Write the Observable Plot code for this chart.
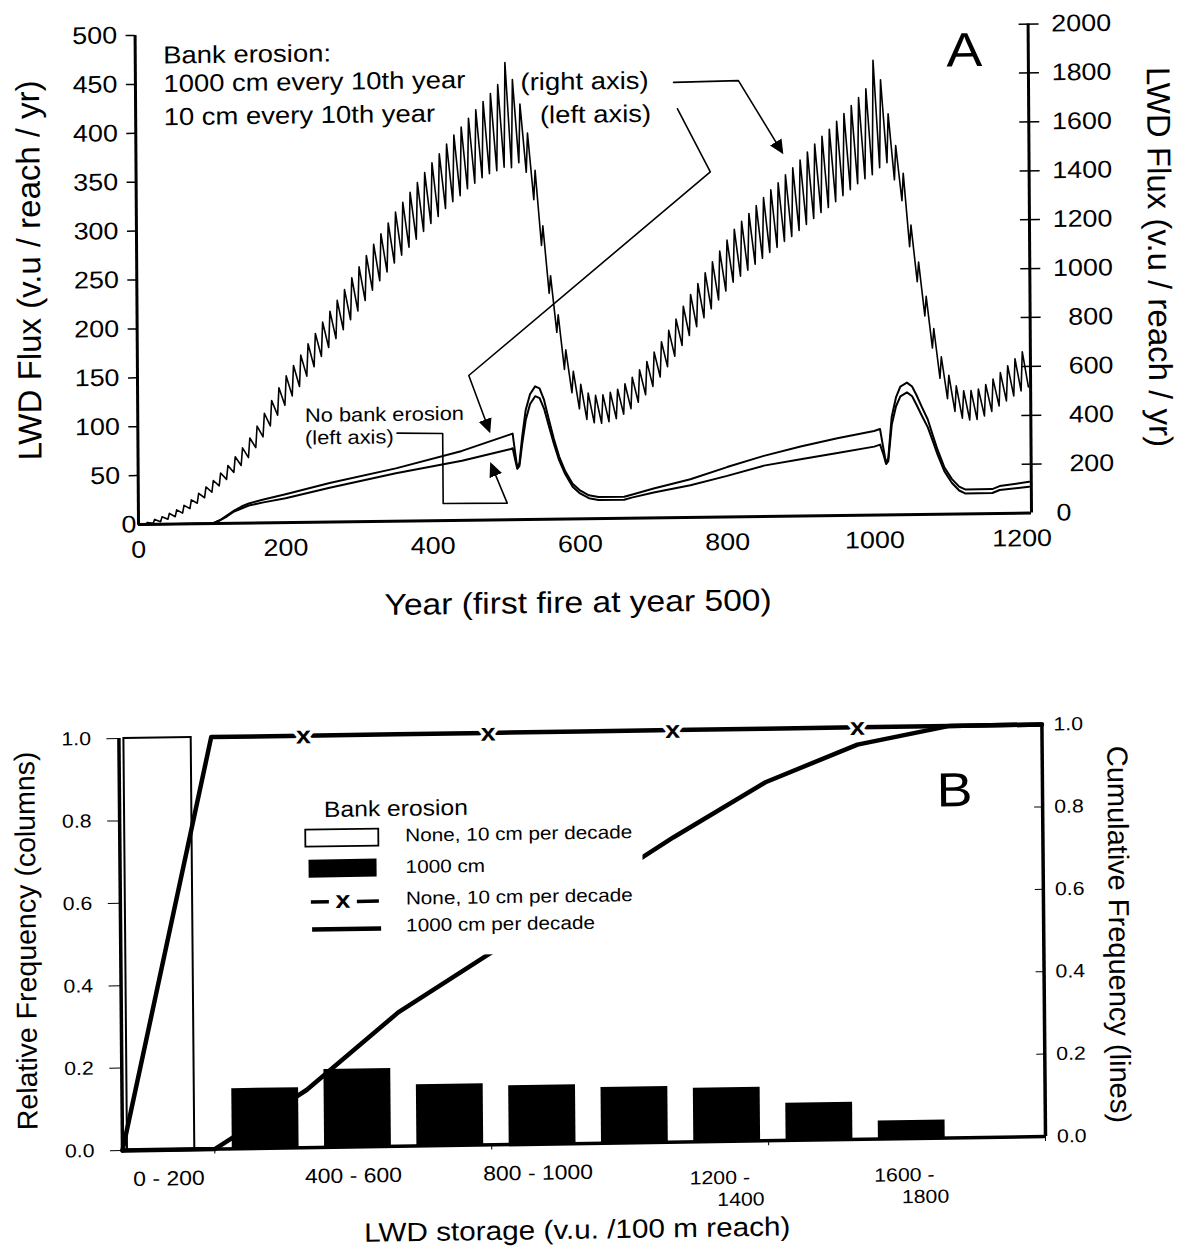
<!DOCTYPE html>
<html><head><meta charset="utf-8">
<script src="https://cdn.jsdelivr.net/npm/d3@7"></script>
<script src="https://cdn.jsdelivr.net/npm/@observablehq/plot@0.6"></script>
<style>
html,body{margin:0;padding:0;background:#fff;overflow:hidden;}
#page{position:relative;width:1184px;height:1247px;overflow:hidden;background:#fff;}
#pa{position:absolute;left:0;top:0;width:1184px;height:640px;transform-origin:138px 524px;transform:skew(0.4deg,-0.733deg);}
#pb{position:absolute;left:0;top:640px;width:1184px;height:607px;transform-origin:122px 510px;transform:skew(0.5deg,-0.869deg);}
svg{overflow:visible;}
</style></head>
<body><div id="page"><div id="pa"></div><div id="pb"></div></div>
<script>
// ================= PANEL A DATA =================
// 1000 cm every 10th year (right axis, v.u./reach/yr): value just before each decade's erosion (trough) and just after (peak)
const decadeYears = d3.range(0, 1211, 10);
const bigPeaks = [
  0, 8, 20, 30, 44, 58, 76, 98, 124, 150,
  176, 206, 236, 272, 308, 348, 396, 448, 500, 552,
  600, 642, 684, 730, 772, 818, 862, 906, 950, 998,
  1042, 1088, 1134, 1176, 1220, 1264, 1304, 1344, 1384, 1424,
  1464, 1500, 1540, 1576, 1608, 1644, 1678, 1712, 1744, 1780,
  1870, 1800, 1700, 1580, 1428, 1200, 996, 836, 692, 604,
  550, 514, 504, 506, 516, 528, 550, 576, 606, 640,
  678, 720, 766, 812, 864, 912, 956, 1000, 1044, 1088,
  1132, 1176, 1208, 1240, 1272, 1304, 1336, 1364, 1396, 1424,
  1456, 1488, 1520, 1552, 1580, 1612, 1644, 1676, 1708, 1744,
  1860, 1780, 1640, 1510, 1396, 1184, 1032, 892, 760, 644,
  568, 524, 504, 504, 510, 528, 550, 576, 604, 632,
  660, 688
];
const bigTroughs = [
  0, 0, 4, 10, 20, 30, 44, 62, 84, 106,
  128, 154, 180, 208, 236, 268, 308, 352, 396, 440,
  480, 518, 556, 598, 636, 678, 714, 750, 786, 826,
  862, 904, 946, 984, 1020, 1056, 1088, 1120, 1152, 1184,
  1216, 1244, 1276, 1304, 1328, 1356, 1378, 1400, 1416, 1428,
  1442, 1440, 1460, 1420, 1308, 1120, 924, 764, 612, 516,
  450, 406, 392, 390, 396, 408, 426, 448, 474, 504,
  538, 576, 618, 660, 704, 744, 780, 816, 852, 888,
  924, 960, 984, 1008, 1032, 1056, 1080, 1100, 1124, 1144,
  1168, 1192, 1216, 1240, 1260, 1284, 1308, 1332, 1356, 1376,
  1392, 1420, 1440, 1370, 1284, 1096, 952, 812, 680, 556,
  472, 420, 392, 384, 386, 400, 418, 440, 460, 480,
  500, 516
];
// 10 cm every 10th year and no bank erosion (left axis)
const lowYears = [0, 100, 110, 120, 130, 140, 150, 170, 200, 260,
  350, 440, 505, 509, 512, 515, 518, 522, 527, 533,
  540, 546, 552, 558, 565, 572, 580, 590, 600, 612,
  625, 660, 670, 700, 750, 800, 850, 900, 950, 1000,
  1008, 1012, 1016, 1019, 1024, 1030, 1036, 1045, 1052, 1058,
  1065, 1073, 1080, 1086, 1095, 1105, 1115, 1123, 1160, 1170,
  1210];
const flux10cm = [0, 0, 3, 8, 13, 17, 20, 24, 29, 40,
  54, 71, 87, 88, 70, 53, 58, 85, 112, 128,
  136, 134, 122, 103, 82, 64, 49, 36, 29, 24,
  22, 22, 24, 30, 39, 51, 62, 71, 79, 86,
  88, 70, 53, 58, 100, 120, 131, 135, 131, 122,
  110, 97, 80, 66, 48, 36, 28, 25, 25, 28,
  32];
const fluxNone = [0, 0, 3, 7, 12, 15, 18, 21, 25, 35,
  49, 61, 72, 73, 62, 52, 55, 78, 102, 118,
  126, 124, 113, 96, 77, 60, 46, 33, 26, 21,
  19, 19, 21, 26, 33, 42, 52, 58, 64, 70,
  72, 63, 52, 55, 92, 111, 121, 125, 121, 112,
  101, 89, 74, 61, 44, 32, 24, 21, 21, 24,
  27];
const xTicksA = [0, 200, 400, 600, 800, 1000, 1200];
const leftTicksA = [50, 100, 150, 200, 250, 300, 350, 400, 450, 500];
const rightTicksA = [200, 400, 600, 800, 1000, 1200, 1400, 1600, 1800, 2000];
const annoBig = [
  {year: 38, v: 479, label: "Bank erosion:"},
  {year: 38, v: 450, label: "1000 cm every 10th year"},
  {year: 38, v: 416, label: "10 cm every 10th year"},
  {year: 523, v: 447, label: "(right axis)"},
  {year: 549, v: 413, label: "(left axis)"}
];
const annoSmall = [
  {year: 227, v: 109, label: "No bank erosion"},
  {year: 227, v: 86, label: "(left axis)"}
];
const arrowPts = [
  {id: "r", year: 731, v: 445}, {id: "r", year: 819, v: 446}, {id: "r", year: 877, v: 373},
  {id: "l", year: 736, v: 418}, {id: "l", year: 780, v: 353}, {id: "l", year: 450, v: 148}, {id: "l", year: 477, v: 92},
  {id: "n", year: 352, v: 90}, {id: "n", year: 414, v: 89}, {id: "n", year: 414, v: 17.5}, {id: "n", year: 501, v: 17}, {id: "n", year: 480, v: 56}
];

// ================= PANEL B DATA =================
const binLo = [0, 200, 400, 600, 800, 1000, 1200, 1400, 1600, 1800];
const binLine1 = ["0 - 200", "", "400 - 600", "", "800 - 1000", "", "1200 -", "", "1600 -", ""];
const binLine2 = ["", "", "", "", "", "", "1400", "", "1800", ""];
const relNone = [1.0, 0, 0, 0, 0, 0, 0, 0, 0, 0];
const rel1000 = [0, 0.146, 0.189, 0.149, 0.143, 0.135, 0.130, 0.090, 0.044, 0];
const cumX = [0, 200, 400, 600, 800, 1000, 1200, 1400, 1600, 1800, 2000];
const cumNone = [0, 1, 1, 1, 1, 1, 1, 1, 1, 1, 1];
const cum1000 = [0, 0, 0.14, 0.325, 0.465, 0.60, 0.74, 0.87, 0.958, 1.0, 1.0];
const cumNoneMarkers = [400, 800, 1200, 1600];
const bTicks = [0, 0.2, 0.4, 0.6, 0.8, 1.0];
const bTickMarks = [200, 800, 1400, 2000];

// ================= BUILD =================
const W = 1184;
const font = "'Liberation Sans', Arial, Helvetica, sans-serif";
const xMaxA = 1213;
const C = {textAnchor: "middle", lineAnchor: "middle"};

const bigPts = [];
decadeYears.forEach((yr, i) => {
  bigPts.push({year: yr, v: bigTroughs[i]});
  if (i < decadeYears.length - 1) bigPts.push({year: yr + 2, v: bigPeaks[i]});
});
const uPts = lowYears.map((y, i) => ({year: y, v: flux10cm[i]}));
const lPts = lowYears.map((y, i) => ({year: y, v: fluxNone[i]}));

const plotA = Plot.plot({
  width: W, height: 640,
  marginLeft: 138, marginRight: W - 1031, marginTop: 35, marginBottom: 116,
  style: {fontFamily: font, fontSize: "24px", color: "black", background: "white", overflow: "visible"},
  x: {domain: [0, xMaxA]},
  y: {domain: [0, 500]},
  marks: [
    Plot.line(bigPts, {x: "year", y: d => d.v / 4, stroke: "black", strokeWidth: 1.6}),
    Plot.line(uPts, {x: "year", y: "v", stroke: "black", strokeWidth: 2}),
    Plot.line(lPts, {x: "year", y: "v", stroke: "black", strokeWidth: 2}),
    Plot.line(arrowPts, {x: "year", y: "v", z: "id", stroke: "black", strokeWidth: 1.6, markerEnd: "arrow"}),
    Plot.ruleX([0, xMaxA], {stroke: "black", strokeWidth: 3}),
    Plot.ruleY([0], {stroke: "black", strokeWidth: 3}),
    Plot.axisY(leftTicksA, {anchor: "left", tickSize: 9, tickPadding: 9, strokeWidth: 1.5, fontSize: 24, tickFormat: d => String(d), label: null}),
    Plot.axisY([0], {anchor: "left", tickSize: 0, tickPadding: 2, fontSize: 24, tickFormat: d => String(d), label: null}),
    Plot.axisY(rightTicksA.map(t => t / 4), {anchor: "right", tickSize: 20, dx: -10, strokeWidth: 1.5, tickFormat: () => "", label: null}),
    Plot.axisY(rightTicksA.map(t => t / 4), {anchor: "right", tickSize: 0, tickPadding: 83, textAnchor: "end", fontSize: 24, tickFormat: d => String(d * 4), label: null}),
    Plot.axisY([0], {anchor: "right", tickSize: 0, tickPadding: 25, fontSize: 24, tickFormat: d => String(d * 4), label: null}),
    Plot.axisX(xTicksA, {anchor: "bottom", tickSize: 0, tickPadding: 16, fontSize: 24, tickFormat: d => String(d), label: null}),
    Plot.text(annoBig, {x: "year", y: "v", text: "label", textAnchor: "start", fontSize: 24.5}),
    Plot.text(annoSmall, {x: "year", y: "v", text: "label", textAnchor: "start", fontSize: 19.5}),
    Plot.text(["LWD Flux (v.u / reach / yr)"], {...C, frameAnchor: "left", rotate: -90, dx: -107, dy: -11, fontSize: 33}),
    Plot.text(["LWD Flux (v.u / reach / yr)"], {...C, frameAnchor: "right", rotate: 90, dx: 129, dy: -10, fontSize: 33}),
    Plot.text(["Year (first fire at year 500)"], {...C, frameAnchor: "bottom", dx: -7.5, dy: 84, fontSize: 30}),
    Plot.text(["A"], {...C, frameAnchor: "top-right", dx: -64, dy: 26, fontSize: 48})
  ]
});

const bins = binLo.map((lo, i) => ({lo, hi: lo + 200, none: relNone[i], e1000: rel1000[i], l1: binLine1[i], l2: binLine2[i]}));
const cum = cumX.map((s, i) => ({s, none: cumNone[i], e1000: cum1000[i]}));

const plotB = Plot.plot({
  width: W, height: 607,
  marginLeft: 122, marginRight: W - 1045, marginTop: 98, marginBottom: 97,
  style: {fontFamily: font, fontSize: "19px", color: "black", background: "white", overflow: "visible"},
  x: {domain: [0, 2000]},
  y: {domain: [0, 1]},
  marks: [
    Plot.rectY(bins.filter(d => d.none > 0), {x1: "lo", x2: "hi", y: "none", fill: "white", stroke: "black", strokeWidth: 2, insetLeft: 5, insetRight: 20}),
    Plot.rectY(bins.filter(d => d.e1000 > 0), {x1: "lo", x2: "hi", y: "e1000", fill: "black", insetLeft: 17.5, insetRight: 8}),
    Plot.line(cum, {x: "s", y: "none", stroke: "black", strokeWidth: 4.5}),
    Plot.text(cum.filter(d => cumNoneMarkers.includes(d.s)), {x: "s", y: "none", text: () => "x", fontWeight: "bold", fontSize: 24, fill: "black", stroke: "white", strokeWidth: 7}),
    Plot.line(cum, {x: "s", y: "e1000", stroke: "black", strokeWidth: 4.5}),
    Plot.ruleX([0, 2000], {stroke: "black", strokeWidth: 3.5}),
    Plot.ruleY([0], {stroke: "black", strokeWidth: 3.5}),
    Plot.axisX(bTickMarks, {anchor: "bottom", tickSize: 5, strokeWidth: 1, tickFormat: () => "", label: null}),
    Plot.text(bins.filter(d => d.l1 && !d.l2), {...C, x: d => d.lo + 100, text: "l1", frameAnchor: "bottom", dy: 29, fontSize: 20.5}),
    Plot.text(bins.filter(d => d.l2), {...C, x: d => d.lo + 100, text: "l1", frameAnchor: "bottom", dx: -3, dy: 36.5, fontSize: 19}),
    Plot.text(bins.filter(d => d.l2), {...C, x: d => d.lo + 100, text: "l2", frameAnchor: "bottom", dx: 18, dy: 58.5, fontSize: 19}),
    Plot.axisY(bTicks, {anchor: "left", tickSize: 12, tickPadding: 16, fontSize: 19, tickFormat: d => d.toFixed(1), label: null}),
    Plot.axisY(bTicks, {anchor: "right", tickSize: 9, dx: -9, tickFormat: () => "", label: null}),
    Plot.axisY(bTicks, {anchor: "right", tickSize: 0, tickPadding: 11.5, fontSize: 19, tickFormat: d => d.toFixed(1), label: null}),
    Plot.text(["Relative Frequency (columns)"], {...C, frameAnchor: "left", rotate: -90, dx: -94, dy: -5, fontSize: 28.5}),
    Plot.text(["Cumulative Frequency (lines)"], {...C, frameAnchor: "right", rotate: 90, dx: 74.5, dy: 5, fontSize: 29}),
    Plot.text(["LWD storage (v.u. /100 m reach)"], {...C, frameAnchor: "bottom", dx: -7.5, dy: 86.5, fontSize: 26.5}),
    Plot.text(["B"], {...C, frameAnchor: "top-right", dx: -88, dy: 65, fontSize: 48})
  ]
});

// legend of panel B (inside the plot area)
const lg = d3.select(plotB).append("g").attr("font-family", font).attr("fill", "black").attr("text-anchor", "start");
lg.append("rect").attr("x", 290).attr("y", 140).attr("width", 355).attr("height", 180).attr("fill", "white");
lg.append("text").attr("x", 327).attr("y", 173).attr("dy", "0.32em").attr("font-size", 22).text("Bank erosion");
lg.append("rect").attr("x", 308).attr("y", 192.5).attr("width", 73).attr("height", 17).attr("fill", "white").attr("stroke", "black").attr("stroke-width", 1.8);
lg.append("rect").attr("x", 311).attr("y", 222.5).attr("width", 68).attr("height", 18).attr("fill", "black");
lg.append("line").attr("x1", 313).attr("x2", 331).attr("y1", 265).attr("y2", 265).attr("stroke", "black").attr("stroke-width", 3.5);
lg.append("line").attr("x1", 359).attr("x2", 381).attr("y1", 265).attr("y2", 265).attr("stroke", "black").attr("stroke-width", 3.5);
lg.append("text").attr("x", 345).attr("y", 265).attr("dy", "0.26em").attr("text-anchor", "middle").attr("font-size", 24).attr("font-weight", "bold").text("x");
lg.append("line").attr("x1", 314).attr("x2", 383).attr("y1", 292.5).attr("y2", 292.5).attr("stroke", "black").attr("stroke-width", 4.5);
[["None, 10 cm per decade", 200], ["1000 cm", 231.5], ["None, 10 cm per decade", 263], ["1000 cm per decade", 290]].forEach(([t, y]) => {
  lg.append("text").attr("x", 408).attr("y", y).attr("dy", "0.32em").attr("text-anchor", "start").attr("font-size", 18.5).text(t);
});

// filled arrow heads
plotA.querySelectorAll("marker").forEach(m => {
  m.setAttribute("markerWidth", 14); m.setAttribute("markerHeight", 14);
  m.setAttribute("fill", "black"); m.setAttribute("stroke", "none");
  const p = m.querySelector("path"); if (p) p.setAttribute("d", "M-5,-3L1.5,0L-5,3Z");
});

document.getElementById("pa").appendChild(plotA);
document.getElementById("pb").appendChild(plotB);

// the scanned figure's lettering is horizontally wider than plain Arial
function stretch(svg, k) {
  svg.querySelectorAll("text").forEach(t => {
    const tr = t.getAttribute("transform") || "";
    if (tr.includes("rotate")) return;
    const spans = t.querySelectorAll("tspan");
    const els = spans.length ? Array.from(spans) : [t];
    els.forEach(el => {
      const len = el.getComputedTextLength();
      if (len > 0) { el.setAttribute("textLength", len * k); el.setAttribute("lengthAdjust", "spacingAndGlyphs"); }
    });
  });
}
stretch(plotA, 1.12);
stretch(plotB, 1.12);
</script></body></html>
